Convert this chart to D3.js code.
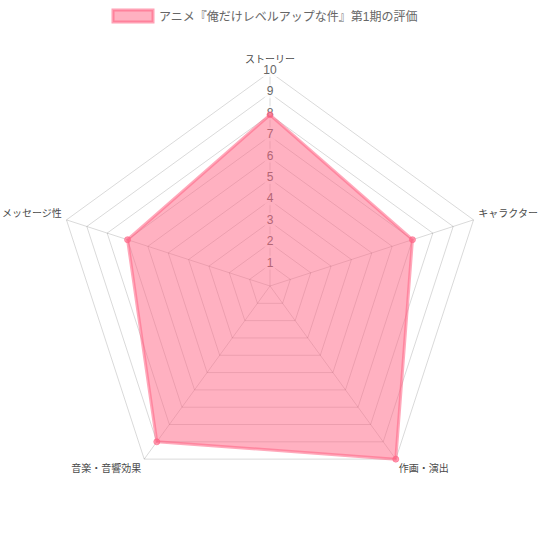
<!DOCTYPE html>
<html>
<head>
<meta charset="utf-8">
<script src="https://cdn.jsdelivr.net/npm/d3@7"></script>
<style>
  body { margin: 0; background: #fff; }
  svg text { font-family: "Liberation Sans", Arial, "Noto Sans CJK JP", sans-serif; }
</style>
</head>
<body>
<svg id="chart" width="540" height="540"></svg>
<script>
var seriesName = "アニメ『俺だけレベルアップな件』第1期の評価";
var categories = ["ストーリー", "キャラクター", "作画・演出", "音楽・音響効果", "メッセージ性"];
var scores = [8, 7, 10, 9, 7];
var tickValues = [1, 2, 3, 4, 5, 6, 7, 8, 9, 10];

var svg = d3.select("#chart");
var cx = 270, cy = 286, R = 214;

var r = d3.scaleLinear().domain([0, 10]).range([0, R]);
var angle = d3.scalePoint().domain(categories).range([0, 2 * Math.PI * (1 - 1 / categories.length)]);

function pt(cat, v) {
    var a = angle(cat);
    return [cx + r(v) * Math.sin(a), cy - r(v) * Math.cos(a)];
}

// grid rings
var grid = svg.append("g");
tickValues.forEach(function (t) {
    grid.append("polygon")
        .attr("points", categories.map(c => pt(c, t).join(",")).join(" "))
        .style("fill", "none")
        .style("stroke", "rgba(0,0,0,0.15)")
        .style("stroke-width", 1);
});

// angle lines
categories.forEach(function (c) {
    var p = pt(c, 10);
    grid.append("line")
        .attr("x1", cx).attr("y1", cy)
        .attr("x2", p[0]).attr("y2", p[1])
        .style("stroke", "rgba(0,0,0,0.15)")
        .style("stroke-width", 1);
});

// tick labels with backdrop
var ticks = svg.append("g");
tickValues.forEach(function (t) {
    var y = cy - r(t) - 2;
    var lbl = String(t);
    var w = lbl.length * 6.7 + 4;
    ticks.append("rect")
        .attr("x", cx - w / 2).attr("y", y - 7)
        .attr("width", w).attr("height", 14)
        .style("fill", "rgba(255,255,255,0.75)");
    ticks.append("text")
        .attr("x", cx).attr("y", y)
        .attr("text-anchor", "middle")
        .attr("dominant-baseline", "central")
        .style("font-size", "12px")
        .style("fill", "#666")
        .text(lbl);
});

// data polygon
var line = d3.line().curve(d3.curveLinearClosed);
svg.append("path")
    .datum(categories.map((c, i) => pt(c, scores[i])))
    .attr("d", line)
    .style("fill", "rgba(255,99,132,0.5)")
    .style("stroke", "rgba(255,99,132,0.55)")
    .style("stroke-width", 3)
    .style("stroke-linejoin", "round");

svg.append("g").selectAll("circle")
    .data(categories)
    .enter()
    .append("circle")
    .attr("cx", (c, i) => pt(c, scores[i])[0])
    .attr("cy", (c, i) => pt(c, scores[i])[1])
    .attr("r", 3)
    .style("fill", "rgba(255,99,132,0.6)")
    .style("stroke", "rgba(255,99,132,0.6)")
    .style("stroke-width", 1);

// point labels
svg.append("g").selectAll("text")
    .data(categories)
    .enter()
    .append("text")
    .each(function (c) {
        var a = angle(c);
        var deg = Math.round(a * 180 / Math.PI);
        var x = cx + (R + 5) * Math.sin(a);
        var y = cy - (R + 5) * Math.cos(a);
        var anchor = (deg === 0 || deg === 180) ? "middle" : (deg < 180 ? "start" : "end");
        var ty = (deg > 270 || deg < 90) ? y - 5 : y + 5;
        if (deg === 0) ty = y - 8;
        d3.select(this)
            .attr("x", x).attr("y", ty)
            .attr("text-anchor", anchor)
            .attr("dominant-baseline", "central")
            .style("font-size", "10px")
            .style("fill", "#4a4a4a")
            .text(c);
    });

// legend
var legend = svg.append("g");
legend.append("rect")
    .attr("x", 113).attr("y", 10)
    .attr("width", 40).attr("height", 12)
    .style("fill", "rgba(255,99,132,0.5)")
    .style("stroke", "rgba(255,99,132,0.6)")
    .style("stroke-width", 3);
legend.append("text")
    .attr("x", 159).attr("y", 16.5)
    .attr("dominant-baseline", "central")
    .style("font-size", "12px")
    .style("fill", "#666")
    .text(seriesName);
</script>
</body>
</html>
